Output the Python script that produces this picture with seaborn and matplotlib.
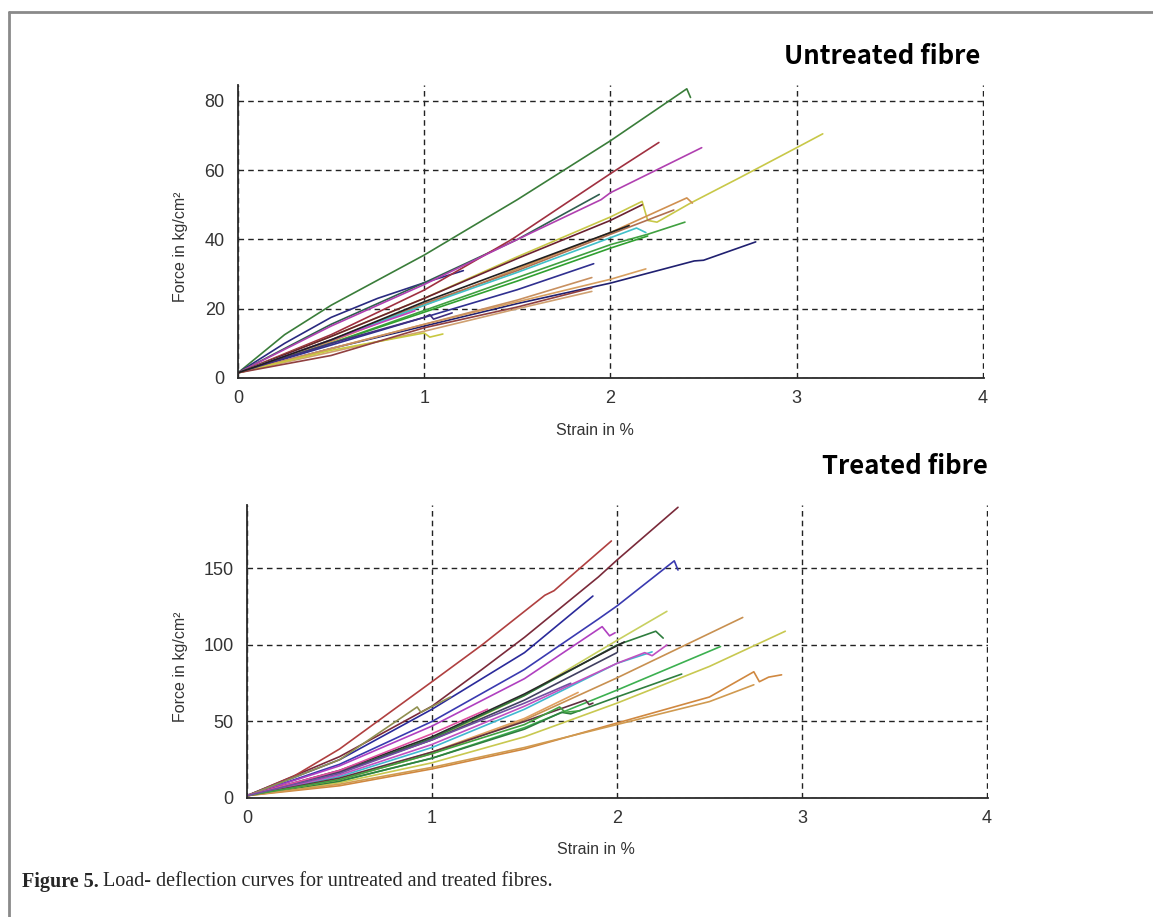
import pandas as pd
import matplotlib
matplotlib.use('Agg')
import matplotlib.pyplot as plt
import seaborn as sns
from matplotlib.lines import Line2D
from matplotlib.ticker import MultipleLocator

# ---- untreated fibre curves (strain %, force kg/cm2) ----
untreated_strain = [
    [0, .25, .5, 1, 1.5, 2, 2.41, 2.43],
    [0, .25, .5, .75, 1, 1.21],
    [0, .5, 1, 1.5, 1.94],
    [0, .5, 1, 1.47, 2, 2.26],
    [0, .5, 1, 1.5, 1.95, 2.0, 2.49],
    [0, .5, 1, 1.5, 2, 2.17, 2.2, 2.25, 2.43, 2.7, 3.0, 3.14],
    [0, .5, 1, 1.5, 2, 2.41, 2.44],
    [0, .5, 1, 1.5, 2, 2.17],
    [0, .5, 1, 1.5, 2, 2.34],
    [0, .5, 1, 1.5, 2, 2.14, 2.19],
    [0, .5, 1, 1.5, 2, 2.2, 2.4],
    [0, .5, 1, 1.5, 2, 2.2],
    [0, .5, 1, 1.5, 2, 2.45, 2.5, 2.78],
    [0, .5, 1, 1.5, 1.91],
    [0, .5, 1, 1.5, 2, 2.19],
    [0, .5, 1, 1.5, 1.9],
    [0, .5, 1, 1.5, 1.9],
    [0, .5, 1.0, 1.03, 1.1],
    [0, .5, .95],
    [0, .5, 1, 1.03, 1.05, 1.15],
    [0, .5, 1, 1.5, 1.9],
    [0, .5, 1, 1.5, 2, 2.1],
]
untreated_force = [
    [1.5, 12.5, 21, 35.5, 51.5, 68.5, 83.5, 81],
    [1.5, 10, 17.5, 23, 27.5, 31],
    [1.5, 15.5, 27.5, 40, 53],
    [1.5, 12.5, 25.4, 40, 59, 68],
    [1.5, 15, 27, 40, 51.5, 53.5, 66.5],
    [1.5, 12, 23, 35, 46.5, 51, 45.5, 45, 50.5, 58, 66.5, 70.5],
    [1.5, 10.5, 21, 31.5, 42, 52, 50.5],
    [1.5, 12, 23, 34.5, 45.5, 50],
    [1.5, 11, 21.5, 31, 41.5, 48.5],
    [1.5, 11, 21, 30.5, 40.5, 43.3, 42],
    [1.5, 10, 19.5, 29, 38.5, 41.5, 45],
    [1.5, 10, 19, 28, 37.5, 41],
    [1.5, 8.5, 15, 21.5, 27.4, 33.8, 34, 39.3],
    [1.5, 9.5, 17.5, 25.5, 33],
    [1.5, 8.5, 15.5, 22, 28.5, 31.5],
    [1.5, 8.5, 15.5, 22.5, 29],
    [1.5, 7.5, 13.5, 20, 25],
    [1.5, 8, 13, 11.8, 12.7],
    [1.5, 11, 19.4],
    [1.5, 10, 17.5, 18.3, 17, 18.8],
    [1.5, 6.5, 14.5, 20.5, 26],
    [1.5, 11, 22, 32, 42, 44],
]
untreated_colors = [
    '#3a7d3a', '#2a2a80', '#2f5f4f', '#a03040', '#b040b0', '#c8c848',
    '#d09050', '#6a2030', '#b07050', '#40c0c8', '#40a040', '#30a030',
    '#202070', '#303090', '#d8a060', '#c89060', '#d0a070', '#c8c840',
    '#c040c0', '#403080', '#904040', '#202020',
]

# ---- treated fibre curves ----
treated_strain = [
    [0, .5, 1, 1.27, 1.5, 1.9, 2, 2.33],
    [0, .25, .5, .75, 1, 1.27, 1.61, 1.66, 1.97],
    [0, .5, 1, 1.5, 1.87],
    [0, .5, 1, 1.5, 1.9, 2, 2.31, 2.33],
    [0, .5, 1, 1.5, 1.92, 1.96, 1.99],
    [0, .5, 1, 1.5, 2, 2.27],
    [0, .5, 1, 1.5, 2, 2.21, 2.25],
    [0, .5, 1, 1.5, 2.04],
    [0, .5, 1, 1.5, 2.0],
    [0, .5, 1, 1.5, 2, 2.19],
    [0, .5, 1, 1.5, 2, 2.15, 2.19, 2.27],
    [0, .5, 1, 1.5, 2, 2.68],
    [0, .5, 1, 1.5, 2, 2.56],
    [0, .5, 1, 1.5, 2, 2.5, 2.91],
    [0, .5, 1, 1.5, 1.7, 1.75, 2, 2.35],
    [0, .5, 1, 1.5, 2, 2.5, 2.74, 2.77, 2.82, 2.89],
    [0, .5, 1, 1.5, 2, 2.5, 2.74],
    [0, .5, 1, 1.5, 1.79],
    [0, .5, 1, 1.5, 1.83, 1.85, 1.87],
    [0, .5, 1, 1.5, 1.69, 1.72, 1.8],
    [0, .5, .92, .94, 1.1],
    [0, .5, 1, 1.3],
    [0, .5, 1, 1.5, 1.75],
]
treated_force = [
    [1.5, 27, 60, 84, 105, 144.5, 155.5, 190],
    [1.5, 14, 32, 54, 76, 100, 132.5, 135.5, 168],
    [1.5, 25, 58, 95, 132],
    [1.5, 22, 50, 84, 117, 125.5, 155, 149],
    [1.5, 21, 47, 78, 112, 106, 108],
    [1.5, 17, 38, 67, 103, 122],
    [1.5, 17, 39, 67, 100, 109, 104.5],
    [1.5, 18, 40, 68, 102],
    [1.5, 17, 38, 64, 95],
    [1.5, 14, 33, 58, 88, 95.5],
    [1.5, 15, 35, 60, 88, 95, 93, 100],
    [1.5, 12, 29, 51, 78.5, 118],
    [1.5, 11, 26, 46, 70.5, 99],
    [1.5, 10, 23, 40, 62, 86, 109],
    [1.5, 11, 26, 45, 56, 55, 66, 81],
    [1.5, 8, 19, 32, 49, 66, 82.5, 76, 79, 80.5],
    [1.5, 9, 20, 33, 48, 63, 74],
    [1.5, 12, 30, 52, 69],
    [1.5, 13, 30, 50, 64, 61, 62],
    [1.5, 12, 29, 48, 59.5, 56, 57],
    [1.5, 25, 59.5, 56, 66],
    [1.5, 18, 42, 58],
    [1.5, 16, 38, 62, 75],
]
treated_colors = [
    '#7a2a3a', '#b04040', '#2a2a9a', '#3a3ab0', '#b040c0', '#c8d060',
    '#2e7d3e', '#2a2a2a', '#404060', '#40b8d0', '#c050c0', '#c89050',
    '#3cb050', '#c8c850', '#2f7f3f', '#d08840', '#d09a50', '#e0a060',
    '#603040', '#40a040', '#909050', '#e050a0', '#7050a0',
]

x_ticks = [0, 1, 2, 3, 4]
untreated_yticks = [0, 20, 40, 60, 80]
treated_yticks = [0, 50, 100, 150]

sns.set_style('white')
plt.rcParams['font.family'] = ['Liberation Sans', 'DejaVu Sans']

fig = plt.figure(figsize=(11.53, 9.17), dpi=100)
W, H = 1153, 917


def panel(rect, xs, ys, colors, ytop, yticks, yminor, xlab_pos, ylab_pos):
    ax = fig.add_axes(rect)
    rows = []
    for i, (sx, fy) in enumerate(zip(xs, ys)):
        for a, b in zip(sx, fy):
            rows.append(('c%02d' % i, a, b))
    df = pd.DataFrame(rows, columns=['curve', 'strain', 'force'])
    pal = {'c%02d' % i: c for i, c in enumerate(colors)}
    sns.lineplot(data=df, x='strain', y='force', hue='curve', palette=pal,
                 estimator=None, sort=False, legend=False, linewidth=1.2, ax=ax)
    ax.set_xlim(0, 4.006)
    ax.set_ylim(0, ytop)
    ax.set_xticks(x_ticks)
    ax.set_yticks(yticks)
    ax.xaxis.set_minor_locator(MultipleLocator(0.2))
    ax.yaxis.set_minor_locator(MultipleLocator(yminor))
    ax.grid(True, which='major', ls=(0, (4, 3)), color='#222222', lw=1.0)
    ax.set_axisbelow(True)
    for s in ['top', 'right']:
        ax.spines[s].set_visible(False)
    for s in ['left', 'bottom']:
        ax.spines[s].set_color('#2a2a2a')
        ax.spines[s].set_linewidth(1.3)
    ax.tick_params(axis='x', which='both', direction='inout', length=7, width=1.2,
                   color='#2a2a2a', labelsize=13, labelcolor='#333333', pad=5)
    ax.tick_params(axis='y', which='both', direction='inout', length=9, width=1.2,
                   color='#2a2a2a', labelsize=13, labelcolor='#333333', pad=5)
    ax.set_xlabel('Strain in %', fontsize=11.5, color='#333333')
    ax.set_ylabel('Force in kg/cm²', fontsize=11.5, color='#333333')
    ax.xaxis.set_label_coords(*xlab_pos)
    ax.yaxis.set_label_coords(*ylab_pos)
    return ax


ax1 = panel([238 / W, 1 - 378 / H, 746 / W, 293 / H], untreated_strain, untreated_force,
            untreated_colors, 84.6, untreated_yticks, 5, (0.478, -0.152), (-0.067, 0.447))
ax2 = panel([247 / W, 1 - 798 / H, 741 / W, 293 / H], treated_strain, treated_force,
            treated_colors, 191.5, treated_yticks, 10, (0.471, -0.150), (-0.080, 0.447))

fig.text(980 / W, 1 - 56 / H, 'Untreated fibre', ha='right', va='center', fontsize=18.5,
         fontweight='bold', color='black', family=['Noto Sans CJK KR', 'DejaVu Sans'])
fig.text(988 / W, 1 - 466 / H, 'Treated fibre', ha='right', va='center', fontsize=18.5,
         fontweight='bold', color='black', family=['Noto Sans CJK KR', 'DejaVu Sans'])

# caption
cap1 = fig.text(22 / W, 1 - 882 / H, 'Figure 5.', ha='left', va='center', fontsize=14.5,
                fontweight='bold', family=['Liberation Serif'])
fig.canvas.draw()
bb = cap1.get_window_extent()
fig.text((bb.x1 + 4) / W, 1 - 882 / H, 'Load- deflection curves for untreated and treated fibres.',
         ha='left', va='center', fontsize=14.5, family=['Liberation Serif'])

# page frame (top and left edges)
fig.add_artist(Line2D([9 / W, 1], [1 - 12 / H, 1 - 12 / H], color='#8a8a8a', lw=2))
fig.add_artist(Line2D([9 / W, 9 / W], [0, 1 - 12 / H], color='#8a8a8a', lw=2))

fig.savefig('out.png', dpi=100)
